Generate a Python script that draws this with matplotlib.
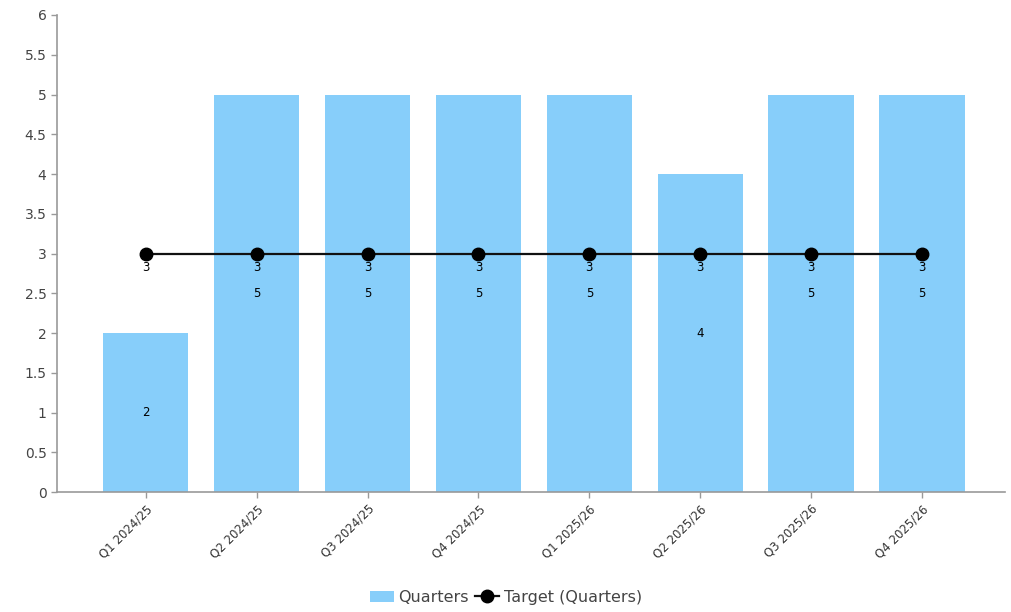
import matplotlib
matplotlib.use('Agg')
import matplotlib.pyplot as plt

# ── Data ────────────────────────────────────────────────────────────────
quarters = ['Q1 2024/25', 'Q2 2024/25', 'Q3 2024/25', 'Q4 2024/25',
            'Q1 2025/26', 'Q2 2025/26', 'Q3 2025/26', 'Q4 2025/26']
actual = [2, 5, 5, 5, 5, 4, 5, 5]
target = [3, 3, 3, 3, 3, 3, 3, 3]

BAR = '#87cefa'
AXIS = '#999999'
TXT = '#444444'

fig = plt.figure(figsize=(10.12, 6.12), dpi=100, facecolor='white')
ax = fig.add_axes([0.0563, 0.196, 0.937, 0.7795])

x = list(range(len(quarters)))
bars = ax.bar(x, actual, width=0.77, color=BAR, zorder=1, label='Quarters')
line, = ax.plot(x, target, color='#111111', lw=1.6, marker='o', markersize=9,
                markerfacecolor='black', markeredgecolor='black', zorder=3,
                label='Target (Quarters)')

for xi, v in zip(x, actual):
    ax.text(xi, v / 2, f'{v}', ha='center', va='center', fontsize=8.5,
            color='black', zorder=4)
for xi, t in zip(x, target):
    ax.text(xi, t - 0.1, f'{t}', ha='center', va='top', fontsize=8.5,
            color='black', zorder=4)

ax.set_xlim(-0.8, 7.75)
ax.set_ylim(0, 6)
ax.set_yticks([i * 0.5 for i in range(13)])
ax.set_yticklabels([f'{i * 0.5:g}' for i in range(13)], fontsize=10, color=TXT)
ax.set_xticks(x)
ax.set_xticklabels(quarters, rotation=45, ha='right', rotation_mode='anchor',
                   fontsize=8.5, color='#333333')

for s in ['top', 'right']:
    ax.spines[s].set_visible(False)
for s in ['left', 'bottom']:
    ax.spines[s].set_color(AXIS)
    ax.spines[s].set_linewidth(1.2)
ax.tick_params(axis='both', color=AXIS, length=4, width=1)

leg = fig.legend([bars, line], ['Quarters', 'Target (Quarters)'],
                 loc='lower center', bbox_to_anchor=(0.5, -0.012), ncol=2,
                 frameon=False, fontsize=11.5, handlelength=1.5,
                 handletextpad=0.3, columnspacing=0.4)
for t in leg.get_texts():
    t.set_color(TXT)

fig.savefig('out.png', dpi=100, facecolor='white')
